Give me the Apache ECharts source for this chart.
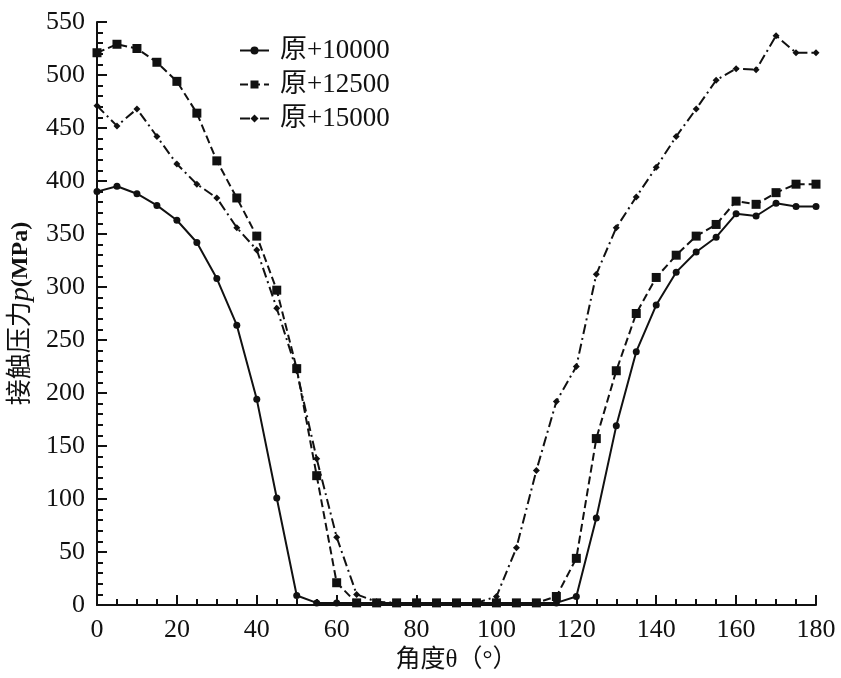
<!DOCTYPE html>
<html>
<head>
<meta charset="utf-8">
<script src="https://cdn.jsdelivr.net/npm/echarts@6/dist/echarts.min.js"></script>
<style>
html, body { margin: 0; padding: 0; background: #fff; }
#chart { width: 841px; height: 678px; }
</style>
</head>
<body>
<div id="chart"></div>
<script>
// angle in degrees, every 5
const angles = [0,5,10,15,20,25,30,35,40,45,50,55,60,65,70,75,80,85,90,95,100,105,110,115,120,125,130,135,140,145,150,155,160,165,170,175,180]
const seriesNames = ['原+10000', '原+12500', '原+15000']
const p10000 = [390,395,388,377,363,342,308,264,194,101,9,2,2,2,2,2,2,2,2,2,2,2,2,2,8,82,169,239,283,314,333,347,369,367,379,376,376]
const p12500 = [521,529,525,512,494,464,419,384,348,297,223,122,21,2,2,2,2,2,2,2,2,2,2,8,44,157,221,275,309,330,348,359,381,378,389,397,397]
const p15000 = [471,452,468,442,416,397,384,356,335,280,221,138,64,10,3,2,2,2,2,2,8,54,127,192,225,312,356,385,413,442,468,495,506,505,537,521,521]

const serif = '"Liberation Serif", "Times New Roman", "Noto Sans CJK SC", serif'

function pairs(vals){
    return angles.map((a, i) => [a, vals[i]])
}

const chart = echarts.init(document.getElementById('chart'))
const option = {
    animation: false,
    grid: { left: 97, right: 25, top: 22, bottom: 73, outerBoundsMode: 'none' },
    legend: {
        left: 234,
        top: 32,
        orient: 'vertical',
        itemWidth: 29,
        itemHeight: 10,
        itemGap: 7,
        textStyle: { fontFamily: serif, fontSize: 27, color: '#111', padding: [0, 0, 0, 6] },
        data: seriesNames
    },
    xAxis: {
        type: 'value',
        min: 0,
        max: 180,
        interval: 20,
        name: '角度θ（°）',
        nameLocation: 'middle',
        nameGap: 41,
        nameTextStyle: { fontFamily: serif, fontSize: 25, color: '#111' },
        axisLine: { lineStyle: { color: '#111', width: 2 } },
        axisTick: { inside: true, length: 10, lineStyle: { color: '#111', width: 2 } },
        minorTick: { show: true, splitNumber: 4, length: 6, lineStyle: { color: '#111', width: 2 } },
        axisLabel: { fontFamily: serif, fontSize: 26, color: '#111', margin: 12 },
        splitLine: { show: false }
    },
    yAxis: {
        type: 'value',
        min: 0,
        max: 550,
        interval: 50,
        name: '{a|接触压力}{b|p}{c|(MPa)}',
        nameLocation: 'middle',
        nameGap: 59,
        nameRotate: 90,
        nameTextStyle: {
            rich: {
                a: { fontFamily: serif, fontSize: 26, color: '#111' },
                b: { fontFamily: serif, fontSize: 28, fontStyle: 'italic', color: '#111' },
                c: { fontFamily: serif, fontSize: 24, fontWeight: 'bold', color: '#111' }
            }
        },
        axisLine: { show: true, lineStyle: { color: '#111', width: 2 } },
        axisTick: { inside: true, length: 10, lineStyle: { color: '#111', width: 2 } },
        minorTick: { show: true, splitNumber: 5, length: 6, lineStyle: { color: '#111', width: 2 } },
        axisLabel: { fontFamily: serif, fontSize: 26, color: '#111', margin: 12 },
        splitLine: { show: false }
    },
    series: [
        {
            name: seriesNames[0],
            type: 'line',
            data: pairs(p10000),
            symbol: 'circle',
            symbolSize: 7,
            itemStyle: { color: '#111' },
            lineStyle: { color: '#111', width: 2, type: 'solid' }
        },
        {
            name: seriesNames[1],
            type: 'line',
            data: pairs(p12500),
            symbol: 'rect',
            symbolSize: 9,
            itemStyle: { color: '#111' },
            lineStyle: { color: '#111', width: 2, type: [8, 4] }
        },
        {
            name: seriesNames[2],
            type: 'line',
            data: pairs(p15000),
            symbol: 'diamond',
            symbolSize: 7,
            itemStyle: { color: '#111' },
            lineStyle: { color: '#111', width: 2, type: [10, 4, 2, 4] }
        }
    ]
}
chart.setOption(option)
</script>
</body>
</html>
